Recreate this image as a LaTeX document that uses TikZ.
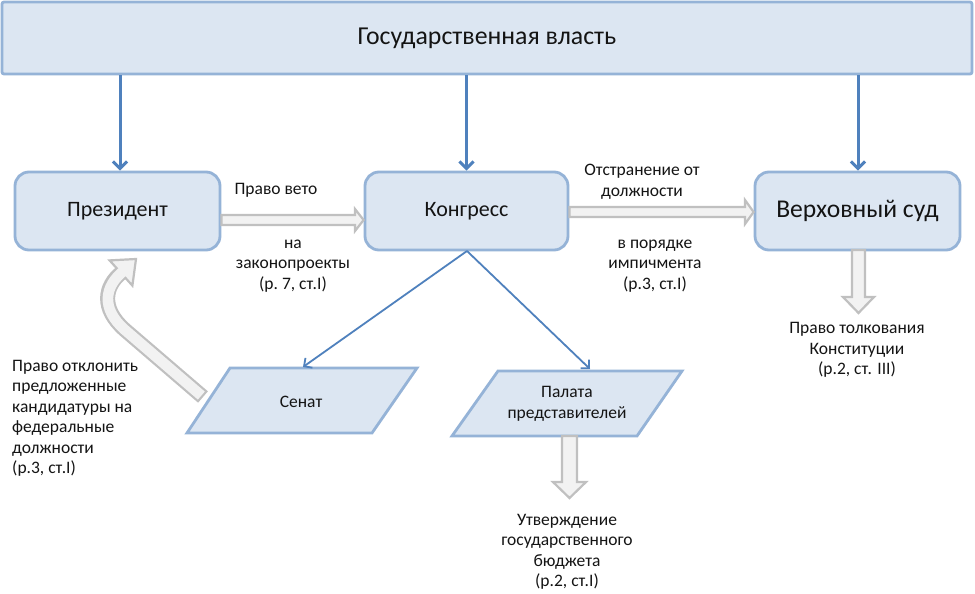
\documentclass[tikz,border=0pt]{standalone}
\usepackage{fontspec}
\setmainfont{Carlito}
\usetikzlibrary{arrows.meta}
\definecolor{boxfill}{HTML}{DCE6F2}
\definecolor{boxline}{HTML}{95B3D7}
\definecolor{blueline}{HTML}{4F81BD}
\definecolor{grayfill}{HTML}{F2F2F2}
\definecolor{grayline}{HTML}{C0C0C0}
\definecolor{txt}{HTML}{141414}
\tikzset{
  rbox/.style={draw=boxline, fill=boxfill, line width=2.8pt, rounded corners=14pt,
    minimum width=205pt, minimum height=78pt, inner sep=0pt, text=txt},
  topbar/.style={draw=boxline, fill=boxfill, line width=2.8pt, rounded corners=2pt,
    minimum width=970pt, minimum height=72pt, inner sep=0pt, text=txt},
  para/.style={draw=boxline, fill=boxfill, line width=2.8pt, line join=miter},
  lbl/.style={text=txt, align=center, inner sep=0pt, font=\fontsize{17.5}{20.5}\selectfont},
  thick blue/.style={draw=blueline, line width=3pt, -{Straight Barb[length=7pt,width=14pt,line width=3pt]}},
  thin blue/.style={draw=blueline, line width=1.8pt, -{Straight Barb[length=6pt,width=12pt,line width=1.8pt]}},
  blockarrow/.style={fill=grayfill, draw=grayline, line width=2.2pt, line join=miter},
}
\begin{document}
\begin{tikzpicture}[x=1pt,y=-1pt]
\useasboundingbox (0,0) rectangle (975,594);
\fill[white] (0,0) rectangle (975,594);

% main nodes
\node[topbar, font=\fontsize{25.8}{30}\selectfont] (gov) at (487,38) {Государственная власть};
\node[rbox, font=\fontsize{22}{26}\selectfont] (prez) at (117.5,211) {Президент};
\node[rbox, minimum width=203pt, font=\fontsize{22}{26}\selectfont] (kong) at (466.5,211) {Конгресс};
\node[rbox, font=\fontsize{25.6}{29}\selectfont] (court) at (857.5,211) {Верховный суд};

% parallelograms
\draw[para] (230,368) -- (417,368) -- (372,433) -- (187,433) -- cycle;
\node[lbl] (sen) at (301,402) {Сенат};
\coordinate (senTop) at (303,367);
\draw[para] (498,371) -- (682,371) -- (637,436) -- (452,436) -- cycle;
\node[lbl] (pal) at (567,404) {Палата\\представителей};
\coordinate (palTop) at (590,369);

% blue arrows from top bar
\draw[thick blue] (gov.south -| 120,0) -- (prez.north -| 120,0);
\draw[thick blue] (gov.south -| kong.north) -- (kong.north);
\draw[thick blue] (gov.south -| 858,0) -- (court.north -| 858,0);

% thin blue arrows from Congress
\coordinate (kongB) at (467,251);
\draw[thin blue] (kongB) -- (senTop);
\draw[thin blue] (kongB) -- (palTop);

% grey block arrows
\draw[blockarrow] (prez.east |- 0,215) -- (355,215) -- (355,209) -- (kong.west |- 0,220) -- (355,231) -- (355,225) -- (prez.east |- 0,225) -- cycle;
\draw[blockarrow] (kong.east |- 0,207) -- (745,207) -- (745,200) -- (court.west |- 0,212) -- (745,224) -- (745,217) -- (kong.east |- 0,217) -- cycle;
\draw[blockarrow] (852,250) -- (852,297) -- (843,297) -- (858.5,313) -- (874,297) -- (865,297) -- (865,250) -- cycle;
\draw[blockarrow] (562,436) -- (562,482) -- (553,482) -- (569.5,498) -- (586,482) -- (577,482) -- (577,436) -- cycle;

% curved block arrow (Senate -> President)
\draw[grayline, line width=15pt] (203,397) -- (125,330) .. controls (100,308) and (105,286) .. (121,273);
\draw[blockarrow] (132.4,285.6) -- (136,259) -- (109.6,260.4) -- cycle;
\draw[grayfill, line width=10.6pt, shorten <=2.2pt, shorten >=-3pt] (203,397) -- (125,330) .. controls (100,308) and (105,286) .. (121,273);

% labels
\node[lbl] (veto1) at (276,190) {Право вето};
\node[lbl] (veto2) at (293,266) {на\\законопроекты\\(р.~7, ст.I)};
\node[lbl] (imp1) at (642,182) {Отстранение от\\должности};
\node[lbl] (imp2) at (655,266) {в порядке\\импичмента\\(р.3, ст.I)};
\node[lbl, align=left, anchor=west] (cand) at (12,418.5) {Право отклонить\\предложенные\\кандидатуры на\\федеральные\\должности\\(р.3, ст.I)};
\node[lbl] (tolk) at (857,350) {Право толкования\\Конституции\\(р.2, ст. III)};
\node[lbl] (budg) at (567,552) {Утверждение\\государственного\\бюджета\\(р.2, ст.I)};
\end{tikzpicture}
\end{document}
